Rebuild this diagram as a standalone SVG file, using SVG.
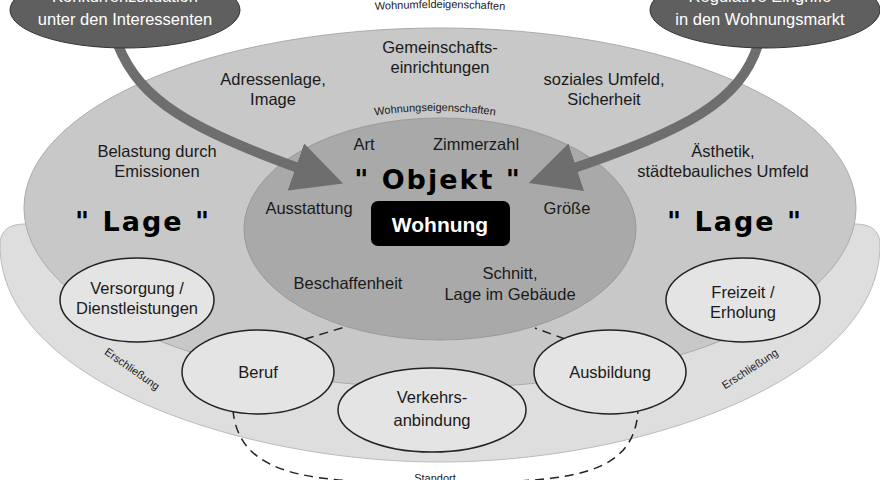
<svg xmlns="http://www.w3.org/2000/svg" width="880" height="480" viewBox="0 0 880 480">
<defs>
<style>
text{font-family:"Liberation Sans",Arial,sans-serif;fill:#1a1a1a;text-anchor:middle}
.t{font-size:16.5px}
.s{font-size:11px}
.big{font-family:"DejaVu Sans","Liberation Sans",sans-serif;font-size:27px;font-weight:bold;letter-spacing:2px;fill:#000}
.w{fill:#fff;font-size:16.5px}
.sm{fill:#e4e4e4;stroke:#222;stroke-width:1.5}
.dash{fill:none;stroke:#222;stroke-width:1.5;stroke-dasharray:9 6}
.arr{fill:none;stroke:#6e6e6e;stroke-width:10}
</style>
<marker id="ah" viewBox="0 0 10 10" refX="3" refY="5" markerWidth="5" markerHeight="5" orient="auto" markerUnits="strokeWidth">
<path d="M0,0 L10,5 L0,10 Z" fill="#6e6e6e"/>
</marker>
<path id="arcTop" d="M330,14 Q440,2 550,14"/>
<path id="arcIn" d="M360,118 Q435,104 510,118"/>
</defs>
<rect width="880" height="480" fill="#fff"/>
<g id="standort-area">
<path d="M0,245 Q0,224 25,224 H855 Q880,224 880,245 C880,380 640,462 440,462 C240,462 0,380 0,245 Z" fill="#dedede" stroke="#bbb"/>
</g>
<g id="wohnumfeld">
<ellipse cx="440" cy="208" rx="416" ry="180" fill="#c8c8c8" stroke="#aaa"/>
<text class="s"><textPath href="#arcTop" startOffset="50%">Wohnumfeldeigenschaften</textPath></text>
</g>
<g id="wohnung-eig">
<ellipse cx="440" cy="229" rx="196" ry="111" fill="#a9a9a9" stroke="#999"/>
<text class="s"><textPath href="#arcIn" startOffset="50%">Wohnungseigenschaften</textPath></text>
</g>
<g id="labels">
<text class="t" x="440" y="53">Gemeinschafts-</text>
<text class="t" x="440" y="73">einrichtungen</text>
<text class="t" x="273" y="85">Adressenlage,</text>
<text class="t" x="273" y="105">Image</text>
<text class="t" x="604" y="85">soziales Umfeld,</text>
<text class="t" x="604" y="105">Sicherheit</text>
<text class="t" x="157" y="157">Belastung durch</text>
<text class="t" x="157" y="177">Emissionen</text>
<text class="t" x="723" y="157">Ästhetik,</text>
<text class="t" x="723" y="177">städtebauliches Umfeld</text>
<text class="big" x="143" y="231">" Lage "</text>
<text class="big" x="735" y="231">" Lage "</text>
<text class="t" x="364" y="150">Art</text>
<text class="t" x="476" y="150">Zimmerzahl</text>
<text class="big" x="438" y="189">" Objekt "</text>
<text class="t" x="309" y="214">Ausstattung</text>
<text class="t" x="567" y="214">Größe</text>
<text class="t" x="348" y="289">Beschaffenheit</text>
<text class="t" x="510" y="279">Schnitt,</text>
<text class="t" x="510" y="300">Lage im Gebäude</text>
<text class="s" transform="translate(130,372) rotate(35)">Erschließung</text>
<text class="s" transform="translate(752,372) rotate(-33)">Erschließung</text>
<text class="s" x="435" y="482">Standort</text>
</g>
<g id="wohnung">
<rect x="371" y="201" width="139" height="45" rx="7" fill="#000"/>
<text x="440" y="232" style="fill:#fff;font-size:21px;font-weight:bold">Wohnung</text>
</g>
<g id="connectors">
<path class="arr" d="M118,45 C140,100 190,130 310,172" marker-end="url(#ah)"/>
<path class="arr" d="M758,45 C740,100 690,130 562,172" marker-end="url(#ah)"/>
<path class="dash" d="M305,339 L345,327"/>
<path class="dash" d="M565,339 L535,328"/>
<path class="dash" d="M233,410 C238,470 300,480 380,482 M490,482 C580,480 635,470 638,410"/>
</g>
<g id="konkurrenz">
<ellipse cx="125" cy="10" rx="115" ry="38" fill="#5f5f5f" stroke="#333"/>
<text class="w" x="125" y="2">Konkurrenzsituation</text>
<text class="w" x="125" y="25">unter den Interessenten</text>
</g>
<g id="regulativ">
<ellipse cx="765" cy="10" rx="115" ry="38" fill="#5f5f5f" stroke="#333"/>
<text class="w" x="760" y="2">Regulative Eingriffe</text>
<text class="w" x="760" y="25">in den Wohnungsmarkt</text>
</g>
<g id="versorgung"><ellipse class="sm" cx="137" cy="300" rx="77" ry="42"/><text class="t" x="137" y="294">Versorgung /</text><text class="t" x="137" y="314">Dienstleistungen</text></g>
<g id="freizeit"><ellipse class="sm" cx="743" cy="300" rx="77" ry="42"/><text class="t" x="743" y="298">Freizeit /</text><text class="t" x="743" y="318">Erholung</text></g>
<g id="beruf"><ellipse class="sm" cx="258" cy="372" rx="76" ry="42"/><text class="t" x="258" y="378">Beruf</text></g>
<g id="ausbildung"><ellipse class="sm" cx="610" cy="372" rx="76" ry="42"/><text class="t" x="610" y="378">Ausbildung</text></g>
<g id="verkehr"><ellipse class="sm" cx="432" cy="410" rx="94" ry="42"/><text class="t" x="432" y="403">Verkehrs-</text><text class="t" x="432" y="426">anbindung</text></g>
</svg>
